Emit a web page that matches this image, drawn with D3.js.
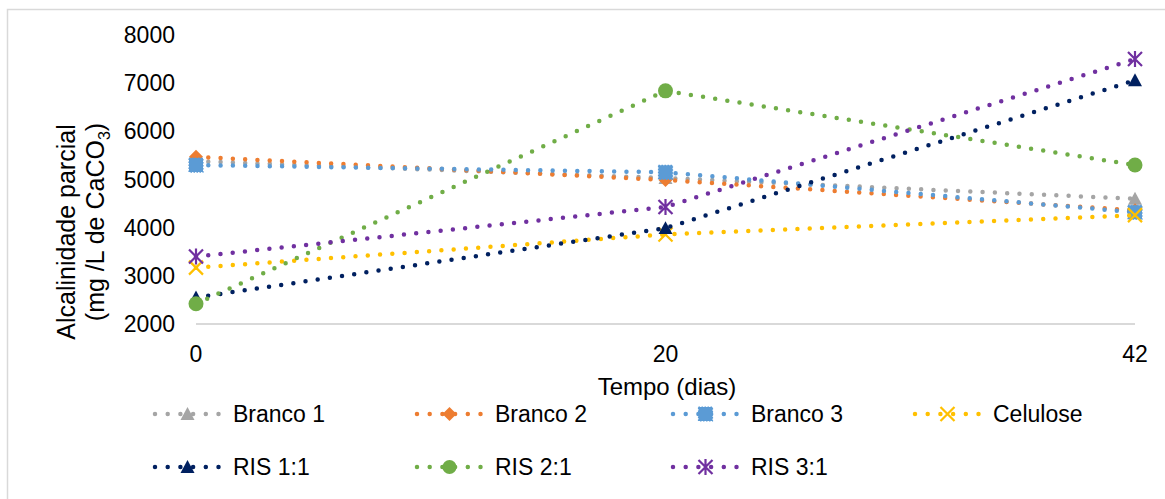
<!DOCTYPE html>
<html>
<head>
<meta charset="utf-8">
<script src="https://cdn.jsdelivr.net/npm/d3@7"></script>
<style>
  html, body { margin: 0; padding: 0; background: #fff; }
  svg text { font-family: "Liberation Sans", Arial, sans-serif; fill: #000; }
</style>
</head>
<body>
<svg id="chart" width="1165" height="499"></svg>
<script>
// dados
var categories = ["0", "20", "42"];
var branco1 = [5380, 5030, 4600];
var branco2 = [5470, 4990, 4360];
var branco3 = [5300, 5150, 4320];
var celulose = [3170, 3860, 4260];
var ris11 = [2550, 3990, 7060];
var ris21 = [2420, 6840, 5300];
var ris31 = [3400, 4430, 7500];
var yTicks = [2000, 3000, 4000, 5000, 6000, 7000, 8000];

var series = [
  {name: "Branco 1", values: branco1, color: "#A5A5A5", marker: "triangle"},
  {name: "Branco 2", values: branco2, color: "#ED7D31", marker: "diamond"},
  {name: "Branco 3", values: branco3, color: "#5B9BD5", marker: "square"},
  {name: "Celulose", values: celulose, color: "#FFC000", marker: "x"},
  {name: "RIS 1:1", values: ris11, color: "#002060", marker: "triangle"},
  {name: "RIS 2:1", values: ris21, color: "#70AD47", marker: "circle"},
  {name: "RIS 3:1", values: ris31, color: "#7030A0", marker: "star"}
];

var svg = d3.select("#chart");
var fs = 23;

// borda do grafico
svg.append("rect")
  .attr("x", 7.5).attr("y", 9.5)
  .attr("width", 1200).attr("height", 520)
  .attr("fill", "#fff")
  .attr("stroke", "#d9d9d9").attr("stroke-width", 1.5);

var x = d3.scalePoint().domain(categories).range([196, 1135]);
var y = d3.scaleLinear().domain([2000, 8000]).range([324, 35]);

// eixo y (so os rotulos)
svg.append("g").selectAll("text")
  .data(yTicks).enter().append("text")
  .attr("x", 175)
  .attr("y", function(d) { return y(d); })
  .attr("dy", "0.35em")
  .attr("text-anchor", "end")
  .attr("font-size", fs)
  .text(function(d) { return d; });

// linha do eixo x
svg.append("line")
  .attr("x1", x(categories[0])).attr("x2", x(categories[categories.length - 1]))
  .attr("y1", y(2000)).attr("y2", y(2000))
  .attr("stroke", "#d9d9d9").attr("stroke-width", 2);

svg.append("g").selectAll("text")
  .data(categories).enter().append("text")
  .attr("x", function(d) { return x(d); })
  .attr("y", 362)
  .attr("text-anchor", "middle")
  .attr("font-size", fs)
  .text(function(d) { return d; });

// titulos dos eixos
svg.append("text")
  .attr("x", 667).attr("y", 395)
  .attr("text-anchor", "middle")
  .attr("font-size", 24)
  .text("Tempo (dias)");

var yt = svg.append("text")
  .attr("transform", "translate(75,232) rotate(-90)")
  .attr("text-anchor", "middle")
  .attr("font-size", 25)
  .text("Alcalinidade parcial");
var yt2 = svg.append("text")
  .attr("transform", "translate(104,222) rotate(-90)")
  .attr("text-anchor", "middle")
  .attr("font-size", 25);
yt2.append("tspan").text("(mg /L de CaCO");
yt2.append("tspan").attr("font-size", 16).attr("dy", 6).text("3");
yt2.append("tspan").attr("dy", -6).text(")");

// marcadores
function markerPath(type, size) {
  var h = size / 2;
  if (type === "x") {
    return "M" + (-h) + "," + (-h) + "L" + h + "," + h + "M" + (-h) + "," + h + "L" + h + "," + (-h);
  }
  if (type === "star") {
    return "M" + (-h) + "," + (-h) + "L" + h + "," + h +
           "M" + (-h) + "," + h + "L" + h + "," + (-h) +
           "M0," + (-h - 1) + "L0," + (h + 1);
  }
  if (type === "diamond") {
    return "M0," + (-h) + "L" + h + ",0L0," + h + "L" + (-h) + ",0Z";
  }
  if (type === "triangle") {
    return "M0," + (-h) + "L" + h + "," + (h * 0.85) + "L" + (-h) + "," + (h * 0.85) + "Z";
  }
  var sym = {square: d3.symbolSquare, circle: d3.symbolCircle}[type];
  var area = {square: size * size, circle: Math.PI * size * size / 4}[type];
  return d3.symbol().type(sym).size(area)();
}

function drawMarker(g, type, color, size) {
  var p = g.append("path").attr("d", markerPath(type, size));
  if (type === "x" || type === "star") {
    p.attr("fill", "none").attr("stroke", color).attr("stroke-width", 2.2);
  } else {
    p.attr("fill", color);
    if (type === "square") {
      p.attr("stroke", color).attr("stroke-width", 1.2).attr("stroke-dasharray", "1.5 1.5");
    }
  }
  return p;
}

var line = d3.line()
  .x(function(d, i) { return x(categories[i]); })
  .y(function(d) { return y(d); });

series.forEach(function(s) {
  var g = svg.append("g");
  g.append("path")
    .attr("d", line(s.values))
    .attr("fill", "none")
    .attr("stroke", s.color)
    .attr("stroke-width", 4.5)
    .attr("stroke-linecap", "round")
    .attr("stroke-dasharray", "0 12.3");
  s.values.forEach(function(v, i) {
    var m = g.append("g")
      .attr("transform", "translate(" + x(categories[i]) + "," + y(v) + ")");
    drawMarker(m, s.marker, s.color, s.marker === "circle" ? 15 : 14);
  });
});

// legenda
var legX = [155, 417, 673, 915];
var legY = [414, 467];
series.forEach(function(s, i) {
  var lx = legX[i % 4], ly = legY[Math.floor(i / 4)];
  var g = svg.append("g").attr("transform", "translate(" + lx + "," + ly + ")");
  g.append("line")
    .attr("x1", 0).attr("x2", 65)
    .attr("y1", 0).attr("y2", 0)
    .attr("stroke", s.color)
    .attr("stroke-width", 4.5)
    .attr("stroke-linecap", "round")
    .attr("stroke-dasharray", "0 12.7");
  var m = g.append("g").attr("transform", "translate(32.5,0)");
  drawMarker(m, s.marker, s.color, 14);
  g.append("text")
    .attr("x", 78)
    .attr("dy", "0.35em")
    .attr("font-size", fs)
    .text(s.name);
});
</script>
</body>
</html>
